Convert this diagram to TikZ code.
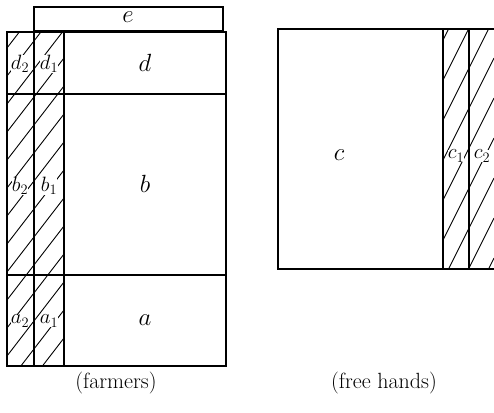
\documentclass[tikz,border=0pt]{standalone}
\usepackage{fontspec}
\usepackage{tikz}
\begin{document}
\begin{tikzpicture}[x=1pt,y=-1pt,
  frame/.style={line width=1.3pt},
  hatch/.style={line width=0.9pt},
  lab/.style={font=\fontsize{26}{28}\selectfont, inner sep=0.8pt},
  sublab/.style={font=\fontsize{21}{23}\selectfont, inner sep=0.3pt, fill=white},
  captext/.style={font=\fontsize{22}{26}\selectfont}]
\useasboundingbox (0,0) rectangle (494,412);
% left hatching
\begin{scope}
\clip (7,32) rectangle (64,366);
\foreach \c in {20,48,...,480} \draw[hatch] (7,\c) -- ++(57,-74);
\end{scope}
% right hatching
\begin{scope}
\clip (443,29) rectangle (494,269);
\foreach \c in {40,80,...,400} \draw[hatch] (443,\c) -- ++(51,-102);
\end{scope}
% left figure frames
\draw[frame] (34,31) rectangle (223,7);
\draw[frame] (7,32) rectangle (226,366);
\draw[frame] (7,94) -- (226,94);
\draw[frame] (7,275) -- (226,275);
\draw[frame] (34,32) -- (34,366);
\draw[frame] (64,32) -- (64,366);
% right figure frames
\draw[frame] (494,29) -- (278,29) -- (278,269) -- (494,269);
\draw[frame] (443,29) -- (443,269);
\draw[frame] (469,29) -- (469,269);
% labels
\node[lab] (e) at (128,17) {$e$};
\node[sublab] (d2) at (20,64) {$d_2$};
\node[sublab] (d1) at (49,64) {$d_1$};
\node[lab] (d) at (145,63) {$d$};
\node[sublab] (b2) at (20,186) {$b_2$};
\node[sublab] (b1) at (49,186) {$b_1$};
\node[lab] (b) at (145,184) {$b$};
\node[sublab] (a2) at (20,321) {$a_2$};
\node[sublab] (a1) at (49,321) {$a_1$};
\node[lab] (a) at (145,320) {$a$};
\node[lab] (c) at (339,155) {$c$};
\node[sublab] (c1) at (456,156) {$c_1$};
\node[sublab] (c2) at (482,156) {$c_2$};
\node[captext] (farm) at (116,383) {(farmers)};
\node[captext] (free) at (384,383) {(free hands)};
\end{tikzpicture}
\end{document}
